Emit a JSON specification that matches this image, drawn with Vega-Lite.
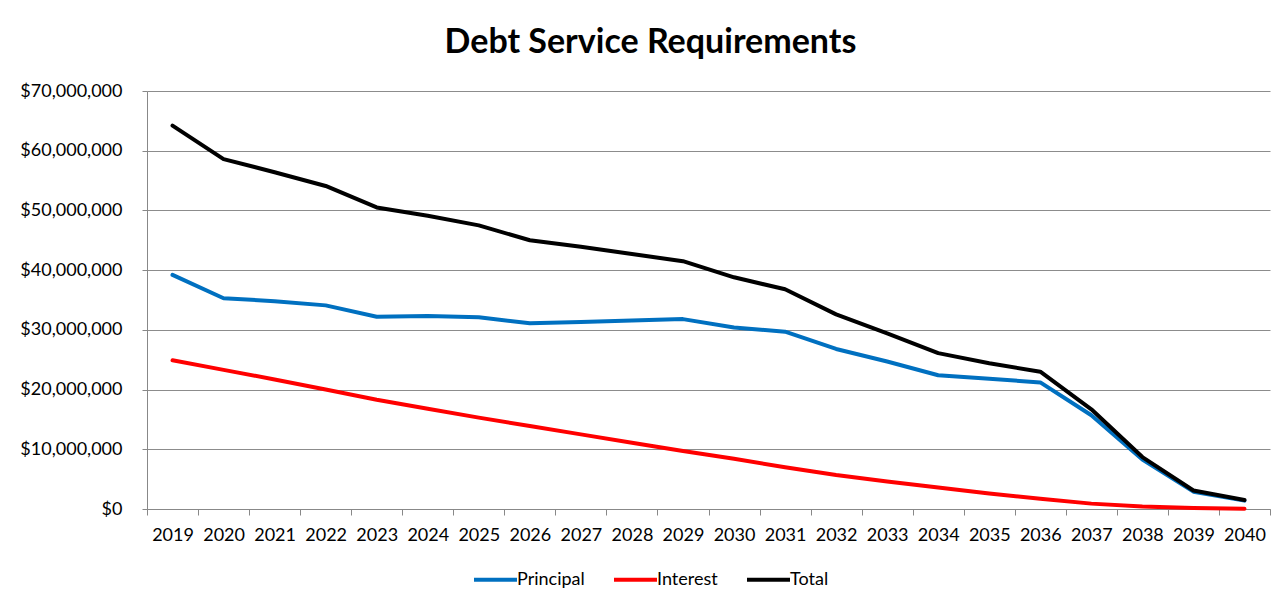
{
  "$schema": "https://vega.github.io/schema/vega-lite/v6.json",
  "width": 1123,
  "height": 418,
  "autosize": {"type": "none"},
  "padding": {"left": 147, "top": 91, "right": 11, "bottom": 98},
  "background": "white",
  "title": {
    "text": "Debt Service Requirements",
    "font": "Lato",
    "fontSize": 34,
    "fontWeight": "bold",
    "color": "#000000",
    "anchor": "middle",
    "baseline": "alphabetic",
    "offset": -5,
    "dx": -58
  },
  "data": {
    "values": [
      {"year": "2019", "series": "Principal", "value": 39200000},
      {"year": "2020", "series": "Principal", "value": 35300000},
      {"year": "2021", "series": "Principal", "value": 34800000},
      {"year": "2022", "series": "Principal", "value": 34100000},
      {"year": "2023", "series": "Principal", "value": 32200000},
      {"year": "2024", "series": "Principal", "value": 32300000},
      {"year": "2025", "series": "Principal", "value": 32100000},
      {"year": "2026", "series": "Principal", "value": 31100000},
      {"year": "2027", "series": "Principal", "value": 31300000},
      {"year": "2028", "series": "Principal", "value": 31550000},
      {"year": "2029", "series": "Principal", "value": 31800000},
      {"year": "2030", "series": "Principal", "value": 30400000},
      {"year": "2031", "series": "Principal", "value": 29700000},
      {"year": "2032", "series": "Principal", "value": 26800000},
      {"year": "2033", "series": "Principal", "value": 24700000},
      {"year": "2034", "series": "Principal", "value": 22400000},
      {"year": "2035", "series": "Principal", "value": 21800000},
      {"year": "2036", "series": "Principal", "value": 21200000},
      {"year": "2037", "series": "Principal", "value": 15700000},
      {"year": "2038", "series": "Principal", "value": 8300000},
      {"year": "2039", "series": "Principal", "value": 2900000},
      {"year": "2040", "series": "Principal", "value": 1400000},
      {"year": "2019", "series": "Interest", "value": 24900000},
      {"year": "2020", "series": "Interest", "value": 23300000},
      {"year": "2021", "series": "Interest", "value": 21700000},
      {"year": "2022", "series": "Interest", "value": 20000000},
      {"year": "2023", "series": "Interest", "value": 18300000},
      {"year": "2024", "series": "Interest", "value": 16800000},
      {"year": "2025", "series": "Interest", "value": 15300000},
      {"year": "2026", "series": "Interest", "value": 13900000},
      {"year": "2027", "series": "Interest", "value": 12500000},
      {"year": "2028", "series": "Interest", "value": 11100000},
      {"year": "2029", "series": "Interest", "value": 9700000},
      {"year": "2030", "series": "Interest", "value": 8400000},
      {"year": "2031", "series": "Interest", "value": 7000000},
      {"year": "2032", "series": "Interest", "value": 5700000},
      {"year": "2033", "series": "Interest", "value": 4600000},
      {"year": "2034", "series": "Interest", "value": 3600000},
      {"year": "2035", "series": "Interest", "value": 2600000},
      {"year": "2036", "series": "Interest", "value": 1700000},
      {"year": "2037", "series": "Interest", "value": 900000},
      {"year": "2038", "series": "Interest", "value": 400000},
      {"year": "2039", "series": "Interest", "value": 150000},
      {"year": "2040", "series": "Interest", "value": 50000},
      {"year": "2019", "series": "Total", "value": 64200000},
      {"year": "2020", "series": "Total", "value": 58600000},
      {"year": "2021", "series": "Total", "value": 56400000},
      {"year": "2022", "series": "Total", "value": 54100000},
      {"year": "2023", "series": "Total", "value": 50500000},
      {"year": "2024", "series": "Total", "value": 49100000},
      {"year": "2025", "series": "Total", "value": 47500000},
      {"year": "2026", "series": "Total", "value": 45000000},
      {"year": "2027", "series": "Total", "value": 43900000},
      {"year": "2028", "series": "Total", "value": 42700000},
      {"year": "2029", "series": "Total", "value": 41500000},
      {"year": "2030", "series": "Total", "value": 38800000},
      {"year": "2031", "series": "Total", "value": 36800000},
      {"year": "2032", "series": "Total", "value": 32600000},
      {"year": "2033", "series": "Total", "value": 29400000},
      {"year": "2034", "series": "Total", "value": 26100000},
      {"year": "2035", "series": "Total", "value": 24400000},
      {"year": "2036", "series": "Total", "value": 23000000},
      {"year": "2037", "series": "Total", "value": 16700000},
      {"year": "2038", "series": "Total", "value": 8700000},
      {"year": "2039", "series": "Total", "value": 3100000},
      {"year": "2040", "series": "Total", "value": 1500000}
    ]
  },
  "mark": {"type": "line", "strokeWidth": 4, "strokeJoin": "round", "strokeCap": "round"},
  "encoding": {
    "x": {
      "field": "year",
      "type": "ordinal",
      "bandPosition": 0.5,
      "scale": {"type": "band", "paddingInner": 0, "paddingOuter": 0},
      "axis": {
        "title": null,
        "labelAngle": 0,
        "tickBand": "extent",
        "tickSize": 6,
        "tickColor": "#888888",
        "domainColor": "#888888",
        "labelPadding": 11,
        "labelFont": "Lato",
        "labelFontSize": 18,
        "labelColor": "#000000",
        "grid": false
      }
    },
    "y": {
      "field": "value",
      "type": "quantitative",
      "scale": {"domain": [0, 70000000], "nice": false},
      "axis": {
        "title": null,
        "values": [0, 10000000, 20000000, 30000000, 40000000, 50000000, 60000000, 70000000],
        "format": "$,.0f",
        "tickSize": 5,
        "tickColor": "#888888",
        "domainColor": "#888888",
        "gridColor": "#8c8c8c",
        "gridWidth": 1,
        "labelPadding": 20,
        "labelFont": "Lato",
        "labelFontSize": 18,
        "labelColor": "#000000"
      }
    },
    "color": {
      "field": "series",
      "type": "nominal",
      "sort": ["Principal", "Interest", "Total"],
      "scale": {"domain": ["Principal", "Interest", "Total"], "range": ["#0070C0", "#FF0000", "#000000"]},
      "legend": {
        "title": null,
        "orient": "none",
        "direction": "horizontal",
        "legendX": 325,
        "legendY": 465,
        "symbolType": "stroke",
        "symbolSize": 1849,
        "symbolStrokeWidth": 4,
        "labelFont": "Lato",
        "labelFontSize": 18,
        "labelColor": "#000000",
        "labelOffset": -2,
        "columnPadding": 21
      }
    }
  },
  "config": {
    "view": {"stroke": null}
  }
}
